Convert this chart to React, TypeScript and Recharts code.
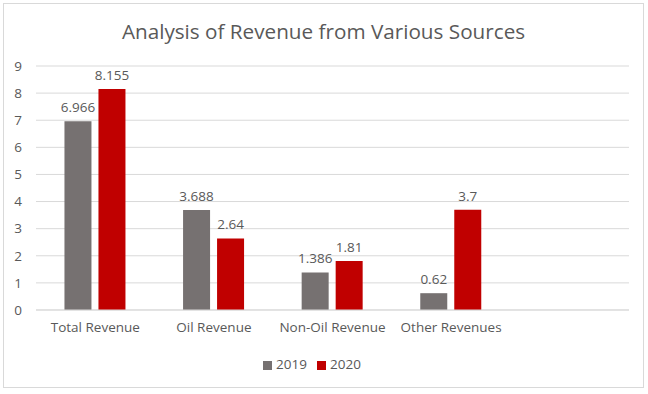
import { BarChart, Bar, XAxis, YAxis, CartesianGrid, Legend, LabelList } from 'recharts'

// values, last category is an empty slot
const categories = ['Total Revenue', 'Oil Revenue', 'Non-Oil Revenue', 'Other Revenues', '']
const values2019 = [6.966, 3.688, 1.386, 0.62, null]
const values2020 = [8.155, 2.64, 1.81, 3.7, null]
const yTicks = [0, 1, 2, 3, 4, 5, 6, 7, 8, 9]

const GRAY = '#767171'
const RED = '#C00000'
const TEXT = '#595959'
const FONT = '"Open Sans", sans-serif'

const data = categories.map((name, i) => ({
  name,
  y2019: values2019[i],
  y2020: values2020[i],
}))

export default function App() {
  return (
    <div
      style={{
        position: 'absolute',
        left: 3,
        top: 3,
        width: 639,
        height: 383,
        border: '1px solid #d9d9d9',
        background: '#fff',
        fontFamily: FONT,
      }}
    >
      <div
        style={{
          position: 'absolute',
          left: 0,
          right: 0,
          top: 13,
          textAlign: 'center',
          fontSize: 20.7,
          color: TEXT,
        }}
      >
        Analysis of Revenue from Various Sources
      </div>
      <BarChart
        width={639}
        height={383}
        data={data}
        margin={{ top: 62, right: 14, bottom: 29, left: 1 }}
        barCategoryGap="24%"
        barGap={7}
        style={{ fontFamily: FONT }}
      >
        <CartesianGrid vertical={false} stroke="#d9d9d9" />
        <XAxis
          dataKey="name"
          axisLine={{ stroke: '#d9d9d9' }}
          tickLine={false}
          tickSize={0}
          tickMargin={12}
          height={30}
          interval={0}
          tick={{ fontSize: 13.5, fill: TEXT }}
        />
        <YAxis
          width={31}
          domain={[0, 9]}
          ticks={yTicks}
          axisLine={false}
          tickLine={false}
          tickSize={0}
          tickMargin={14}
          tick={{ fontSize: 13.5, fill: TEXT }}
        />
        <Legend
          verticalAlign="bottom"
          iconType="square"
          iconSize={9}
          wrapperStyle={{ bottom: 14, fontSize: 13.5 }}
          formatter={(v: string) => <span style={{ color: TEXT }}>{v}</span>}
        />
        <Bar dataKey="y2019" name="2019" fill={GRAY} isAnimationActive={false}>
          <LabelList dataKey="y2019" position="top" offset={9} fill={TEXT} fontSize={13.5} />
        </Bar>
        <Bar dataKey="y2020" name="2020" fill={RED} isAnimationActive={false}>
          <LabelList dataKey="y2020" position="top" offset={9} fill={TEXT} fontSize={13.5} />
        </Bar>
      </BarChart>
    </div>
  )
}
